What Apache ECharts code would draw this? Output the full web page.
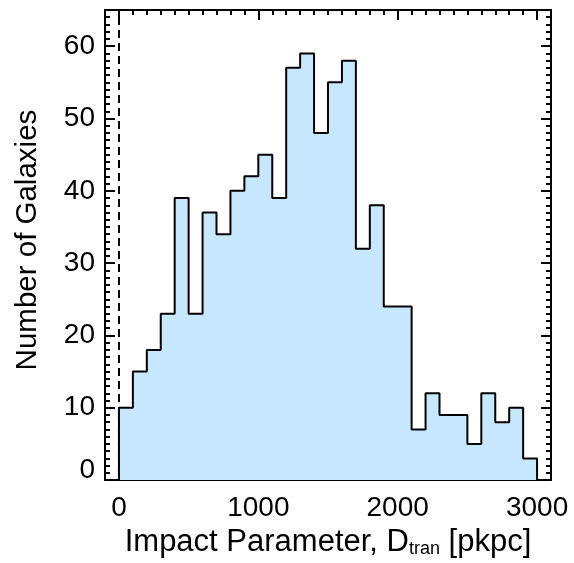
<!DOCTYPE html>
<html>
<head>
<meta charset="utf-8">
<script src="https://cdn.jsdelivr.net/npm/echarts@6/dist/echarts.min.js"></script>
<style>
  html, body { margin: 0; padding: 0; background: #fff; }
  #chart { width: 574px; height: 563px; }
</style>
</head>
<body>
<div id="chart"></div>
<script>
// Histogram of galaxy impact parameters, 100 pkpc bins from 0 to 3000
const binWidth = 100;
const binStarts = [0, 100, 200, 300, 400, 500, 600, 700, 800, 900,
  1000, 1100, 1200, 1300, 1400, 1500, 1600, 1700, 1800, 1900,
  2000, 2100, 2200, 2300, 2400, 2500, 2600, 2700, 2800, 2900];
const counts = [10, 15, 18, 23, 39, 23, 37, 34, 40, 42,
  45, 39, 57, 59, 48, 55, 58, 32, 38, 24,
  24, 7, 12, 9, 9, 5, 12, 8, 10, 3];
const xMajorTicks = [0, 1000, 2000, 3000];
const xRange = [-100, 3100];
const yRange = [0, 65];

// Step outline: rise from zero at the first edge, fall to zero at the last edge
const stepData = [[binStarts[0], 0]];
binStarts.forEach((x, i) => stepData.push([x, counts[i]]));
const lastEdge = binStarts[binStarts.length - 1] + binWidth;
stepData.push([lastEdge, counts[counts.length - 1]]);
stepData.push([lastEdge, 0]);

const FONT = 'Liberation Sans';
const TICK_FONT = 28;
const lineStyle = { color: '#000', width: 2 };

function xAxisMinor(position, showLabels) {
  return {
    type: 'value', position: position, min: xRange[0], max: xRange[1], interval: 100,
    axisLine: { show: true, onZero: false, lineStyle: lineStyle },
    axisTick: { show: true, inside: true, length: 5, lineStyle: lineStyle },
    axisLabel: showLabels ? {
      show: true, interval: 0, margin: 14, color: '#000', fontFamily: FONT, fontSize: TICK_FONT,
      formatter: v => (xMajorTicks.indexOf(v) >= 0 ? String(v) : '')
    } : { show: false },
    splitLine: { show: false }
  };
}
function xAxisMajor(position) {
  return {
    type: 'value', position: position, min: xRange[0], max: xRange[1],
    axisLine: { show: false, onZero: false },
    axisTick: { show: true, inside: true, length: 10, customValues: xMajorTicks, lineStyle: lineStyle },
    axisLabel: { show: false },
    splitLine: { show: false }
  };
}
function yAxis(position, showLabels) {
  return {
    type: 'value', position: position, min: yRange[0], max: yRange[1], interval: 10,
    axisLine: { show: true, onZero: false, lineStyle: lineStyle },
    axisTick: { show: true, inside: true, length: 10, lineStyle: lineStyle },
    minorTick: { show: true, splitNumber: 10, length: 5, lineStyle: { color: '#000', width: 2 } },
    axisLabel: showLabels ? {
      show: true, margin: 10, color: '#000', fontFamily: FONT, fontSize: TICK_FONT,
      showMaxLabel: false,
      formatter: v => (v === 0 ? '{z|0}' : String(v)),
      rich: { z: { fontFamily: FONT, fontSize: TICK_FONT, color: '#000', padding: [0, 0, 20, 0] } }
    } : { show: false },
    splitLine: { show: false },
    minorSplitLine: { show: false }
  };
}

const xBottom = xAxisMinor('bottom', true);
xBottom.name = '{n|Impact Parameter, D}{s|tran}{n| [pkpc]}';
xBottom.nameLocation = 'middle';
xBottom.nameGap = 44;
xBottom.nameTextStyle = {
  rich: {
    n: { fontFamily: FONT, fontSize: 31, color: '#000' },
    s: { fontFamily: FONT, fontSize: 18, color: '#000', verticalAlign: 'bottom', padding: [12, 0, 0, 0] }
  }
};

const yLeft = yAxis('left', true);
yLeft.name = 'Number of Galaxies';
yLeft.nameLocation = 'middle';
yLeft.nameGap = 62;
yLeft.nameTextStyle = { fontFamily: FONT, fontSize: 29.5, color: '#000', padding: [0, 0, 0, 10] };

const chart = echarts.init(document.getElementById('chart'), null, { renderer: 'canvas' });
chart.setOption({
  animation: false,
  backgroundColor: '#fff',
  grid: { left: 105, top: 10, width: 446, height: 473, containLabel: false },
  xAxis: [xBottom, xAxisMajor('bottom'), xAxisMinor('top', false), xAxisMajor('top')],
  yAxis: [yLeft, yAxis('right', false)],
  series: [
    {
      // dashed reference line at zero impact parameter
      type: 'line', xAxisIndex: 0, yAxisIndex: 0, data: [], z: 1, silent: true,
      markLine: {
        symbol: 'none', silent: true, label: { show: false },
        lineStyle: { color: '#000', width: 2, type: [8, 5] },
        data: [{ xAxis: 0 }]
      }
    },
    {
      type: 'line', xAxisIndex: 0, yAxisIndex: 0, step: 'end', z: 3,
      data: stepData, showSymbol: false, symbol: 'none',
      lineStyle: { color: '#000', width: 2 },
      areaStyle: { color: '#c6e7fd', opacity: 1, origin: 'start' }
    }
  ]
});
</script>
</body>
</html>
